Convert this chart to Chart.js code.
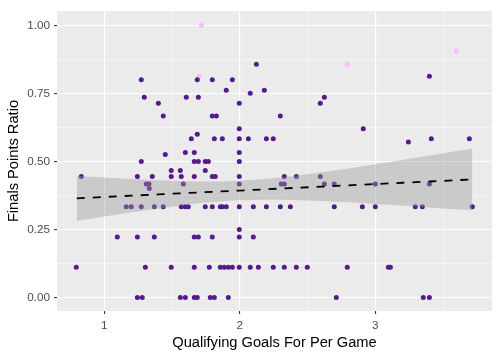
<!DOCTYPE html>
<html>
<head>
<meta charset="utf-8">
<script src="https://cdn.jsdelivr.net/npm/chart.js@4.4.1/dist/chart.umd.min.js"></script>
<style>
  html, body { margin: 0; padding: 0; background: #ffffff; }
  #wrap { width: 500px; height: 358px; }
</style>
</head>
<body>
<div id="wrap"><canvas id="c" width="500" height="358"></canvas></div>
<script>
// ---- Data ----
const purpleX = [
  1.273, 1.686, 1.797, 1.945,
  3.399,
  2.122,
  1.900, 2.181,
  2.077,
  1.295, 1.605, 1.694, 2.624,
  1.399, 1.996, 2.594,
  1.435, 1.797, 1.827, 2.299,
  1.996, 2.911,
  1.686,
  1.642, 1.812, 1.871, 1.996, 2.063, 2.196, 2.247, 3.413, 3.694,
  3.244,
  1.598, 1.664, 1.996,
  1.450,
  1.273, 1.664, 1.694, 1.745, 1.768, 1.996,
  1.494, 1.561, 1.745,
  0.830, 1.244, 1.354, 1.494, 1.568, 1.664, 1.797, 1.819, 1.996, 2.328, 2.417, 2.594,
  1.310, 1.330, 1.583, 1.996, 2.306, 2.328, 2.624, 2.697, 3.000, 3.399,
  1.332,
  1.162, 1.199, 1.273, 1.369, 1.435, 1.568, 1.598, 1.620, 1.745, 1.797, 1.856, 1.871, 1.900, 1.996, 2.100, 2.196, 2.299, 2.373, 2.697, 2.904, 3.000, 3.295, 3.347, 3.716,
  1.996,
  1.096, 1.244, 1.369, 1.664, 1.694, 1.797, 1.996, 2.100,
  0.793, 1.303, 1.494, 1.664, 1.775, 1.856, 1.885, 1.915, 1.945, 1.996, 2.077, 2.137, 2.247, 2.328, 2.417, 2.498, 2.793, 3.096, 3.111,
  1.244, 1.280, 1.561, 1.598, 1.664, 1.686, 1.782, 1.812, 1.915, 2.712, 3.354, 3.399
];
const purpleY = [
  0.800, 0.800, 0.800, 0.800,
  0.8125,
  0.857,
  0.761, 0.761,
  0.750,
  0.7355, 0.7355, 0.7355, 0.7355,
  0.714, 0.714, 0.714,
  0.6667, 0.6667, 0.6667, 0.6667,
  0.620, 0.620,
  0.600,
  0.5833, 0.5833, 0.5833, 0.5833, 0.5833, 0.5833, 0.5833, 0.5833, 0.5833,
  0.5714,
  0.533, 0.533, 0.533,
  0.525,
  0.500, 0.500, 0.500, 0.500, 0.500, 0.500,
  0.467, 0.467, 0.467,
  0.4444, 0.4444, 0.4444, 0.4444, 0.4444, 0.4444, 0.4444, 0.4444, 0.4444, 0.4444, 0.4444, 0.4444,
  0.4167, 0.4167, 0.4167, 0.4167, 0.4167, 0.4167, 0.4167, 0.4167, 0.4167, 0.4167,
  0.400,
  0.3333, 0.3333, 0.3333, 0.3333, 0.3333, 0.3333, 0.3333, 0.3333, 0.3333, 0.3333, 0.3333, 0.3333, 0.3333, 0.3333, 0.3333, 0.3333, 0.3333, 0.3333, 0.3333, 0.3333, 0.3333, 0.3333, 0.3333, 0.3333,
  0.250,
  0.2222, 0.2222, 0.2222, 0.2222, 0.2222, 0.2222, 0.2222, 0.2222,
  0.1111, 0.1111, 0.1111, 0.1111, 0.1111, 0.1111, 0.1111, 0.1111, 0.1111, 0.1111, 0.1111, 0.1111, 0.1111, 0.1111, 0.1111, 0.1111, 0.1111, 0.1111, 0.1111,
  0, 0, 0, 0, 0, 0, 0, 0, 0, 0, 0, 0
];
const pinkX = [1.716, 1.700, 2.793, 3.598];
const pinkY = [1.000, 0.8125, 0.857, 0.906];

const smoothX = [0.797, 1.0, 1.2, 1.4, 1.6, 1.8, 2.0, 2.2, 2.4, 2.6, 2.8, 3.0, 3.2, 3.4, 3.6, 3.716];
const fitY    = [0.3645, 0.3693, 0.3741, 0.3788, 0.3835, 0.3883, 0.3930, 0.3978, 0.4025, 0.4073, 0.4120, 0.4167, 0.4215, 0.4262, 0.4310, 0.4337];
const upperY  = [0.4476, 0.4411, 0.4354, 0.4305, 0.4270, 0.4262, 0.4290, 0.4361, 0.4467, 0.4598, 0.4742, 0.4895, 0.5054, 0.5216, 0.5381, 0.5477];
const lowerY  = [0.2814, 0.2975, 0.3128, 0.3271, 0.3400, 0.3504, 0.3570, 0.3595, 0.3583, 0.3548, 0.3498, 0.3439, 0.3376, 0.3308, 0.3239, 0.3197];

const xMajor = [1, 2, 3];
const xMinor = [1.5, 2.5, 3.5];
const yMajor = [0, 0.25, 0.5, 0.75, 1.0];
const yMinor = [0.125, 0.375, 0.625, 0.875];

const xTitle = 'Qualifying Goals For Per Game';
const yTitle = 'Finals Points Ratio';

// ---- helpers ----
const zip = (xs, ys) => xs.map((x, i) => ({ x: x, y: ys[i] }));
const isIn = (arr, v) => arr.some(a => Math.abs(a - v) < 1e-9);

const FONT = 'Liberation Sans, Arial, sans-serif';

const panelBg = {
  id: 'panelBg',
  beforeDraw(chart) {
    const { ctx, chartArea: a } = chart;
    ctx.save();
    ctx.fillStyle = '#EBEBEB';
    ctx.fillRect(a.left, a.top, a.right - a.left, a.bottom - a.top);
    ctx.restore();
  }
};

function axisOpts(major, minor, fmt, fixFn) {
  return {
    type: 'linear',
    border: { display: false },
    afterBuildTicks: (scale) => {
      scale.ticks = major.concat(minor).sort((a, b) => a - b).map(v => ({ value: v }));
    },
    afterFit: fixFn,
    ticks: {
      autoSkip: false,
      color: '#4D4D4D',
      font: { family: FONT, size: 11.7 },
      callback: (v) => isIn(major, v) ? fmt(v) : ''
    },
    grid: {
      color: '#FFFFFF',
      lineWidth: (c) => (c.tick && isIn(major, c.tick.value)) ? 1.1 : 0.55,
      tickColor: (c) => (c.tick && isIn(major, c.tick.value)) ? '#333333' : 'rgba(0,0,0,0)',
      tickLength: 3,
      tickWidth: 1.1,
      drawTicks: true
    }
  };
}

const xAxis = axisOpts(xMajor, xMinor, v => String(v), (s) => { s.height = 47; });
xAxis.min = 0.651; xAxis.max = 3.861;
xAxis.position = 'bottom';
xAxis.ticks.padding = 5;
xAxis.title = { display: true, text: xTitle, color: '#000000', font: { family: FONT, size: 14.67 }, padding: { top: 0, bottom: 6.3 } };

const yAxis = axisOpts(yMajor, yMinor, v => v.toFixed(2), (s) => { s.width = 57; });
yAxis.min = -0.0496; yAxis.max = 1.0525;
yAxis.position = 'left';
yAxis.ticks.padding = 4;
yAxis.title = { display: true, text: yTitle, color: '#000000', font: { family: FONT, size: 14.67 }, padding: { top: 4.9, bottom: 0 } };

new Chart(document.getElementById('c'), {
  type: 'scatter',
  data: {
    datasets: [
      {
        type: 'line', label: 'fit', data: zip(smoothX, fitY),
        borderColor: '#000000', borderWidth: 1.8, borderDash: [8, 8],
        pointRadius: 0, fill: false, tension: 0, order: 0
      },
      {
        type: 'line', label: 'upper', data: zip(smoothX, upperY),
        borderWidth: 0, borderColor: 'rgba(0,0,0,0)', pointRadius: 0,
        backgroundColor: 'rgba(153,153,153,0.4)', fill: '+1', tension: 0.3, order: 1
      },
      {
        type: 'line', label: 'lower', data: zip(smoothX, lowerY),
        borderWidth: 0, borderColor: 'rgba(0,0,0,0)', pointRadius: 0,
        fill: false, tension: 0.3, order: 1
      },
      {
        label: 'teams', data: zip(purpleX, purpleY),
        backgroundColor: '#551A8B', borderWidth: 0, pointRadius: 2.5, order: 2
      },
      {
        label: 'highlight', data: zip(pinkX, pinkY),
        backgroundColor: '#FFBBFF', borderWidth: 0, pointRadius: 2.5, order: 3
      }
    ]
  },
  options: {
    responsive: false,
    animation: false,
    devicePixelRatio: 1,
    layout: { padding: { left: 0, right: 8, top: 7, bottom: 0 } },
    plugins: { legend: { display: false }, tooltip: { enabled: false } },
    scales: { x: xAxis, y: yAxis }
  },
  plugins: [panelBg]
});
</script>
</body>
</html>
